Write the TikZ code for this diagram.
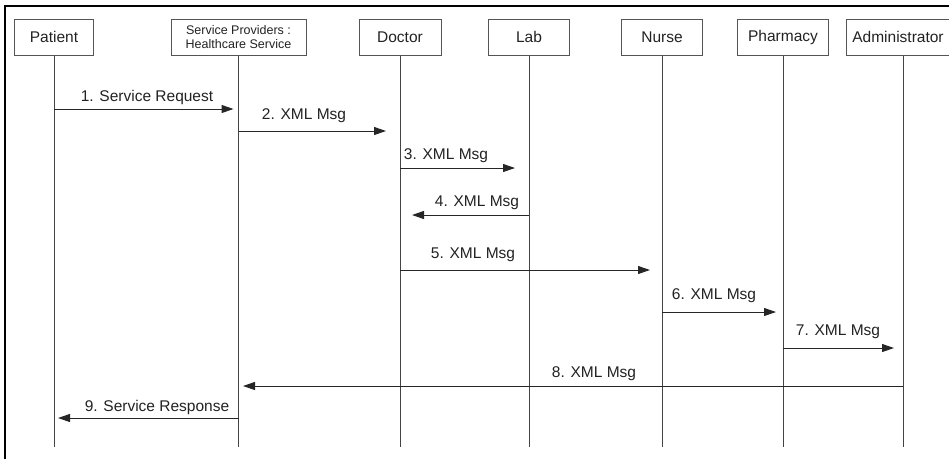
\documentclass[tikz,border=0pt]{standalone}
\usepackage{fontspec}
\setmainfont{Liberation Sans}
\usetikzlibrary{arrows.meta}
\definecolor{boxline}{HTML}{555555}
\definecolor{txt}{HTML}{222222}
\begin{document}
\begin{tikzpicture}[x=1pt,y=-1pt,
  actor/.style={draw=boxline,line width=1pt,minimum height=36pt,inner sep=0pt,text=txt,font=\fontsize{15.5}{17}\selectfont},
  life/.style={draw=boxline!80!black,line width=1pt},
  msg/.style={draw=black!85,line width=1pt,-{Triangle[length=12pt,width=8pt]}},
  lbl/.style={text=txt,font=\fontsize{15.5}{17}\selectfont,inner sep=0pt}]
\useasboundingbox (0,0) rectangle (949,459);
\draw[line width=1.2pt] (5,459) -- (5,6) -- (949,6);
\node[actor,minimum width=79pt] (pat) at (54,37) {Patient};
\node[actor,minimum width=135pt,align=center,font=\fontsize{12.5}{14.5}\selectfont] (srv) at (238.5,37) {Service Providers :\\Healthcare Service};
\node[actor,minimum width=82pt] (doc) at (400,37) {Doctor};
\node[actor,minimum width=81pt] (lab) at (529,37) {Lab};
\node[actor,minimum width=81pt] (nur) at (662,37) {Nurse};
\node[actor,minimum width=91pt] (pha) at (783,37) {Pharmacy};
\node[actor,minimum width=114pt] (adm) at (903,37) {\hspace*{-10pt}Administrator};
\foreach \n in {pat,srv,doc,lab,nur,pha,adm}{
  \coordinate (\n-end) at (\n.south |- 0,447);
  \draw[life] (\n.south) -- (\n-end);
}
% messages
\draw[msg] (pat.south |- 0,109) -- ([xshift=-5pt]srv.south |- 0,109);
\node[lbl] (l1) at (147,97) {1. Service Request};
\draw[msg] (srv.south |- 0,131) -- (386,131) coordinate (m2);
\node[lbl] (l2) at (304,116) {2. XML Msg};
\draw[msg] (doc.south |- 0,168) -- (515,168) coordinate (m3);
\node[lbl] (l3) at (446,156) {3. XML Msg};
\draw[msg] (lab.south |- 0,215) -- (412,215) coordinate (m4);
\node[lbl] (l4) at (477,203) {4. XML Msg};
\draw[msg] (doc.south |- 0,270) -- (650,270) coordinate (m5);
\node[lbl] (l5) at (473,255) {5. XML Msg};
\draw[msg] (nur.south |- 0,312) -- (776,312) coordinate (m6);
\node[lbl] (l6) at (714,296) {6. XML Msg};
\draw[msg] (pha.south |- 0,348) -- (894,348) coordinate (m7);
\node[lbl] (l7) at (838,332) {7. XML Msg};
\draw[msg] (adm.south |- 0,386) -- (243,386) coordinate (m8);
\node[lbl] (l8) at (594,374) {8. XML Msg};
\draw[msg] (srv.south |- 0,418) -- (58,418) coordinate (m9);
\node[lbl] (l9) at (157,407) {9. Service Response};
\end{tikzpicture}
\end{document}
